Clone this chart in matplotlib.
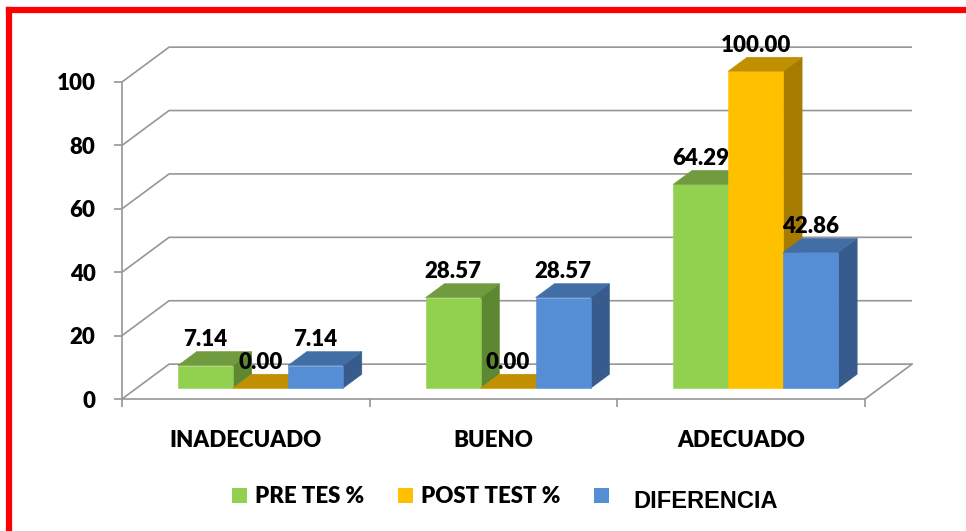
import matplotlib

matplotlib.use("Agg")
import matplotlib.pyplot as plt
from matplotlib.lines import Line2D
from matplotlib.patches import Polygon, Rectangle

categories = ["INADECUADO", "BUENO", "ADECUADO"]
series = ["PRE TES %", "POST TEST %", "DIFERENCIA"]
pre_test = [7.14, 28.57, 64.29]
post_test = [0.00, 0.00, 100.00]
diferencia = [7.14, 28.57, 42.86]
y_ticks = [0, 20, 40, 60, 80, 100]

# front / top / side face colours per series
face_colors = [
    ("#92D050", "#709B3E", "#5E8732"),
    ("#FFC000", "#C09000", "#A67C00"),
    ("#558ED5", "#416EA5", "#365B8C"),
]

W, H = 966, 531
DX, DY = 0.19, 11.0          # depth offset of the back wall (x in categories, y in values)
D0, D1 = 0.31, 0.71          # bar front / back depth
BAR_W = 1 / 4.5
GRID = "#969696"
FONT = "Lato"
WEIGHT = "heavy"

fig = plt.figure(figsize=(W / 100, H / 100), dpi=100)
px_x, px_y = 247.67, 3.17    # pixels per category / per value unit
ax = fig.add_axes([122 / W, 1 - 399 / H, (3 + DX) * px_x / W, (100 + DY) * px_y / H])
ax.set_xlim(0, 3 + DX)
ax.set_ylim(0, 100 + DY)
ax.patch.set_visible(False)

# walls: gridlines drawn as front-edge diagonal + back line
for v in y_ticks:
    ax.plot([0, DX, 3 + DX], [v, v + DY, v + DY], color=GRID, lw=1.2,
            clip_on=False, zorder=1, solid_capstyle="butt")
ax.plot([3, 3 + DX], [0, DY], color=GRID, lw=1.2, clip_on=False, zorder=1)

for s in ("top", "right"):
    ax.spines[s].set_visible(False)
for s in ("left", "bottom"):
    ax.spines[s].set_color(GRID)
    ax.spines[s].set_linewidth(1.2)
ax.spines["left"].set_bounds(0, 100)
ax.spines["bottom"].set_bounds(0, 3)

ax.set_yticks(y_ticks)
ax.set_yticklabels([str(v) for v in y_ticks])
ax.tick_params(axis="y", length=6, width=1.2, color=GRID, pad=13,
               labelsize=16)
ax.set_xticks([0, 1, 2, 3])
ax.set_xticklabels([])
ax.set_xticks([i + 0.5 for i in range(3)], minor=True)
ax.set_xticklabels(categories, minor=True)
ax.tick_params(axis="x", which="major", length=6, width=1.2, color=GRID)
ax.tick_params(axis="x", which="minor", length=0, pad=22, labelsize=16)
for lab in ax.get_yticklabels() + ax.get_xticklabels(minor=True):
    lab.set_fontfamily(FONT)
    lab.set_fontweight(WEIGHT)


def draw_bar(x0, v, cols):
    x1 = x0 + BAR_W
    a, b = D0 * DX, D1 * DX
    ya, yb = D0 * DY, D1 * DY
    front = [(x0 + a, ya), (x1 + a, ya), (x1 + a, v + ya), (x0 + a, v + ya)]
    top = [(x0 + a, v + ya), (x1 + a, v + ya), (x1 + b, v + yb), (x0 + b, v + yb)]
    side = [(x1 + a, ya), (x1 + b, yb), (x1 + b, v + yb), (x1 + a, v + ya)]
    for pts, c in ((side, cols[2]), (front, cols[0]), (top, cols[1])):
        ax.add_patch(Polygon(pts, closed=True, facecolor=c, edgecolor=c,
                             lw=0.4, clip_on=False, zorder=3))


values = [pre_test, post_test, diferencia]
for i in range(len(categories)):
    for k, vals in enumerate(values):
        x0 = i + 0.5 + (k - 1.5) * BAR_W
        draw_bar(x0, vals[i], face_colors[k])
for i in range(len(categories)):
    for k, vals in enumerate(values):
        xc = i + 0.5 + (k - 1) * BAR_W + D0 * DX
        ax.annotate(f"{vals[i]:.2f}", (xc, vals[i] + D1 * DY),
                    xytext=(0, 4), textcoords="offset points",
                    ha="center", va="baseline", fontsize=16,
                    fontweight=WEIGHT, family=FONT, zorder=5,
                    annotation_clip=False)

# legend
legend_pos = [(232, 255, 503, 16, FONT), (398, 421, 503, 16, FONT),
              (594, 633, 508, 17, "Liberation Sans")]
for name, cols, (sx, tx, base, size, fam) in zip(series, face_colors, legend_pos):
    fig.patches.append(Rectangle((sx / W, 1 - 503 / H), 15 / W, 15 / H,
                                 transform=fig.transFigure, facecolor=cols[0],
                                 edgecolor="none"))
    fig.text(tx / W, 1 - base / H, name, fontsize=size,
             fontweight=WEIGHT if fam == FONT else "bold",
             family=fam, va="baseline", ha="left")

# red frame (top and left edges)
fig.add_artist(Line2D([9 / W, 1], [1 - 10 / H, 1 - 10 / H], color="red",
                      lw=4.5, transform=fig.transFigure))
fig.add_artist(Line2D([9 / W, 9 / W], [0, 1 - 10 / H], color="red",
                      lw=4.5, transform=fig.transFigure))

fig.savefig("out.png", dpi=100)
plt.close(fig)
